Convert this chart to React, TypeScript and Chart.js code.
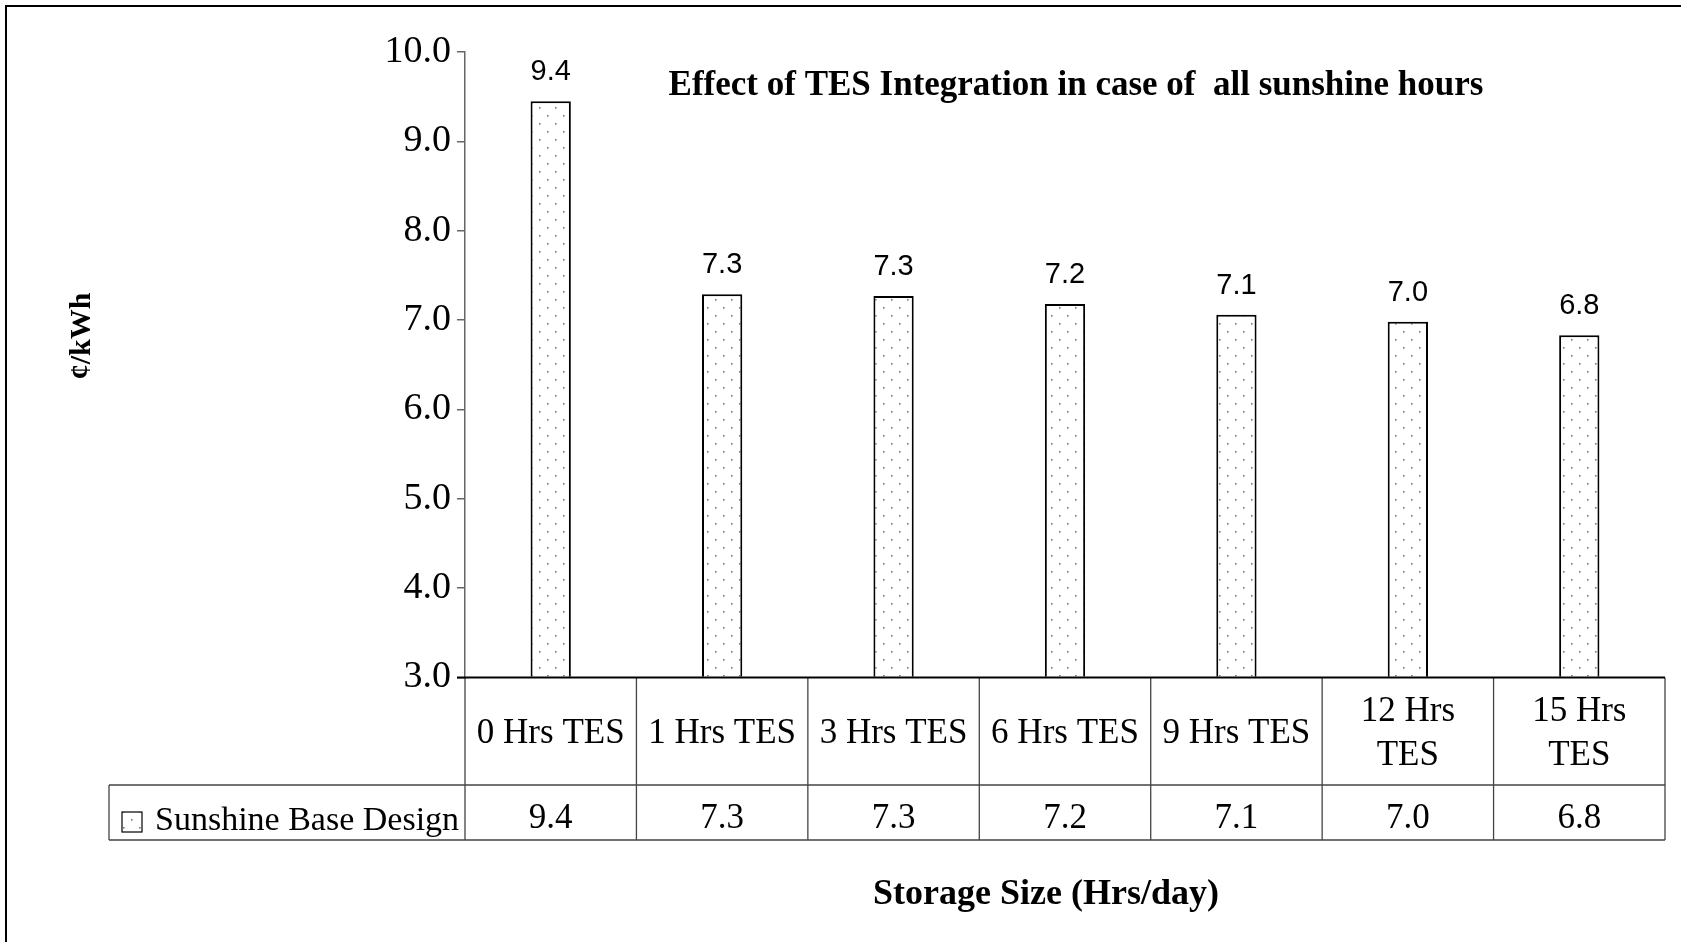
import { useEffect, useRef } from 'react';
import { Chart, registerables } from 'chart.js';

Chart.register(...registerables);

// ---- data ----
const categories: (string | string[])[] = [
  '0 Hrs TES',
  '1 Hrs TES',
  '3 Hrs TES',
  '6 Hrs TES',
  '9 Hrs TES',
  ['12 Hrs', 'TES'],
  ['15 Hrs', 'TES'],
];
const seriesName = 'Sunshine Base Design';
const costValues = [9.45, 7.29, 7.27, 7.18, 7.06, 6.98, 6.83];
const yMin = 3;
const yMax = 10;
const yStep = 1;
const chartTitle = 'Effect of TES Integration in case of  all sunshine hours';
const yAxisTitle = '¢/kWh';
const xAxisTitle = 'Storage Size (Hrs/day)';

const SERIF = '"Liberation Serif", "Times New Roman", serif';
const SANS = '"Liberation Sans", Arial, sans-serif';

function makeDotPattern(): CanvasPattern | string {
  const c = document.createElement('canvas');
  c.width = 16;
  c.height = 16;
  const g = c.getContext('2d');
  if (!g) return '#ffffff';
  g.fillStyle = '#ffffff';
  g.fillRect(0, 0, 16, 16);
  g.fillStyle = '#7a7a7a';
  g.fillRect(3, 3, 1.6, 1.6);
  g.fillRect(11, 11, 1.6, 1.6);
  const p = g.createPattern(c, 'repeat');
  return p || '#ffffff';
}

export default function App() {
  const canvasRef = useRef<HTMLCanvasElement | null>(null);

  useEffect(() => {
    const canvas = canvasRef.current;
    if (!canvas) return;
    const pattern = makeDotPattern();

    const dataLabelPlugin = {
      id: 'dataLabels',
      afterDatasetsDraw(chart: any) {
        const { ctx } = chart;
        const meta = chart.getDatasetMeta(0);
        ctx.save();
        ctx.font = `29px ${SANS}`;
        ctx.fillStyle = '#000';
        ctx.textAlign = 'center';
        ctx.textBaseline = 'alphabetic';
        meta.data.forEach((bar: any, i: number) => {
          ctx.fillText(costValues[i].toFixed(1), bar.x, bar.y - 21);
        });
        ctx.restore();
      },
    };

    const decorPlugin = {
      id: 'decor',
      afterDraw(chart: any) {
        const { ctx, chartArea: ca } = chart;
        const xs = chart.scales.x;
        const n = categories.length;
        const colW = (ca.right - ca.left) / n;
        const top = ca.bottom;
        const mid = top + 107.5;
        const bot = top + 162.5;
        const legendLeft = 109;
        ctx.save();

        // outer frame (top & left visible)
        ctx.strokeStyle = '#000';
        ctx.lineWidth = 2;
        ctx.beginPath();
        ctx.moveTo(6, 942);
        ctx.lineTo(6, 6);
        ctx.lineTo(1681, 6);
        ctx.stroke();

        // table grid
        ctx.strokeStyle = '#444';
        ctx.lineWidth = 1.3;
        ctx.beginPath();
        for (let i = 0; i <= n; i++) {
          const x = ca.left + i * colW;
          ctx.moveTo(x, top);
          ctx.lineTo(x, bot);
        }
        ctx.moveTo(legendLeft, mid);
        ctx.lineTo(ca.right, mid);
        ctx.moveTo(legendLeft, bot);
        ctx.lineTo(ca.right, bot);
        ctx.moveTo(legendLeft, mid);
        ctx.lineTo(legendLeft, bot);
        ctx.stroke();

        // category axis line
        ctx.strokeStyle = '#000';
        ctx.lineWidth = 2;
        ctx.beginPath();
        ctx.moveTo(ca.left - 8, top);
        ctx.lineTo(ca.right, top);
        ctx.stroke();

        // category labels
        ctx.fillStyle = '#000';
        ctx.font = `35px ${SERIF}`;
        ctx.textAlign = 'center';
        ctx.textBaseline = 'middle';
        const rowCenter = top + 56;
        const lineH = 44;
        categories.forEach((lab, i) => {
          const cx = xs.getPixelForValue(i);
          const lines = Array.isArray(lab) ? lab : [lab];
          const y0 = rowCenter - ((lines.length - 1) * lineH) / 2;
          lines.forEach((t, k) => ctx.fillText(t, cx, y0 + k * lineH));
          ctx.fillText(costValues[i].toFixed(1), cx, mid + 34);
        });

        // legend key + series name
        ctx.fillStyle = pattern as any;
        ctx.fillRect(122, mid + 27, 20, 20);
        ctx.strokeStyle = '#000';
        ctx.lineWidth = 1.2;
        ctx.strokeRect(122, mid + 27, 20, 20);
        ctx.fillStyle = '#000';
        ctx.textAlign = 'left';
        ctx.font = `34px ${SERIF}`;
        ctx.fillText(seriesName, 155, mid + 36);

        // chart title
        ctx.font = `bold 35px ${SERIF}`;
        ctx.textAlign = 'center';
        ctx.textBaseline = 'alphabetic';
        ctx.fillText(chartTitle, 1076, 95);

        // x axis title
        ctx.font = `bold 36px ${SERIF}`;
        ctx.fillText(xAxisTitle, 1046, 904);

        // y axis title
        ctx.save();
        ctx.translate(82, 336);
        ctx.rotate(-Math.PI / 2);
        ctx.font = `bold 30px ${SERIF}`;
        ctx.textBaseline = 'middle';
        ctx.fillText(yAxisTitle, 0, 0);
        ctx.restore();

        ctx.restore();
      },
    };

    const chart = new Chart(canvas, {
      type: 'bar',
      data: {
        labels: categories as any,
        datasets: [
          {
            label: seriesName,
            data: costValues,
            backgroundColor: pattern as any,
            borderColor: '#000',
            borderWidth: 2,
            base: yMin,
            barPercentage: 0.235,
            categoryPercentage: 1,
          } as any,
        ],
      },
      options: {
        animation: false,
        responsive: true,
        maintainAspectRatio: false,
        layout: { padding: { left: 0, right: 16, top: 52, bottom: 264.5 } },
        plugins: {
          legend: { display: false },
          title: { display: false },
          tooltip: { enabled: false },
        },
        scales: {
          x: {
            display: false,
            offset: true,
          },
          y: {
            min: yMin,
            max: yMax,
            afterFit: (scale: any) => {
              scale.width = 465;
            },
            grid: {
              drawOnChartArea: false,
              drawTicks: true,
              tickLength: 8,
              color: '#666',
              lineWidth: 1.5,
            },
            border: { display: true, color: '#666', width: 1.5 },
            ticks: {
              stepSize: yStep,
              padding: 6,
              color: '#000',
              font: { family: SERIF, size: 38 },
              callback: (v: any) => Number(v).toFixed(1),
            },
          },
        },
      },
      plugins: [dataLabelPlugin, decorPlugin],
    });

    return () => chart.destroy();
  }, []);

  return (
    <div style={{ position: 'fixed', left: 0, top: 0, width: 1681, height: 942, background: '#fff' }}>
      <canvas ref={canvasRef} />
    </div>
  );
}
